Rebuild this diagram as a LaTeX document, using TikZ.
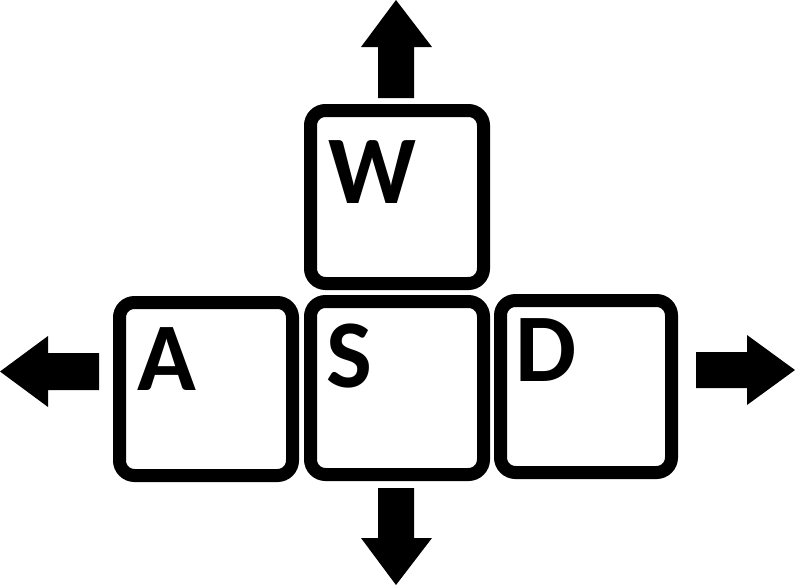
\documentclass[tikz,border=0pt]{standalone}
\usepackage{fontspec}
\setmainfont{Carlito}
\begin{document}
\begin{tikzpicture}[x=1pt,y=-1pt,
  keybox/.style={draw=black, line width=13pt, rounded corners=15pt, fill=white,
    minimum width=173pt, minimum height=173pt, inner sep=0pt, outer sep=0pt},
  keylabel/.style={font=\fontsize{97}{97}\selectfont\bfseries, anchor=base west, inner sep=0pt},
  arrowshape/.style={fill=black, draw=none}]
\useasboundingbox (0,0) rectangle (795,587);
% keys
\node[keybox] (wkey) at (397,197) {};
\node[keybox] (akey) at (206,389) {};
\node[keybox] (skey) at (397,388) {};
\node[keybox, minimum width=171pt, minimum height=172pt] (dkey) at (586,386.5) {};
% labels
\node[keylabel] (wlab) at (328,203) {W};
\node[keylabel] (alab) at (137,390) {A};
\node[keylabel] (slab) at (326,387) {S};
\node[keylabel] (dlab) at (515,381) {D};
% arrows
\fill[arrowshape] (378,98) -- (378,47) -- (361,47) -- (396,0) -- (432,47) -- (414,47) -- (414,98) -- cycle;
\fill[arrowshape] (378,488) -- (378,538) -- (361,538) -- (396,585) -- (432,538) -- (414,538) -- (414,488) -- cycle;
\fill[arrowshape] (99,353) -- (48,353) -- (48,336) -- (0,371.5) -- (48,407) -- (48,390) -- (99,390) -- cycle;
\fill[arrowshape] (696,352) -- (747,352) -- (747,335) -- (795,370) -- (747,405) -- (747,388) -- (696,388) -- cycle;
\end{tikzpicture}
\end{document}
